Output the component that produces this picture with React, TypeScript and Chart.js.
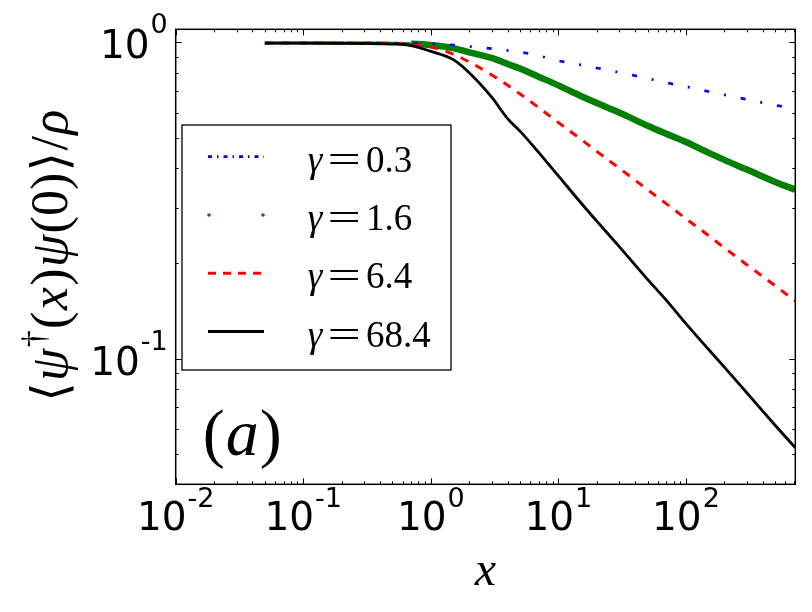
import { useEffect, useRef } from 'react';
import { Chart, registerables } from 'chart.js';

Chart.register(...registerables);

// x positions shared by every curve (log axis)
const X_VALUES = [0.05, 0.1, 0.2, 0.3, 0.5, 0.7, 1, 1.5, 2, 3, 4, 5, 7, 10, 15, 20, 30, 50, 70, 100, 150, 200, 300, 500, 720];

// <psi^+(x) psi(0)> / rho for each gamma
const G_03 = [0.995, 0.995, 0.995, 0.995, 0.995, 0.994, 0.991, 0.981, 0.971, 0.956, 0.943, 0.932, 0.908, 0.875, 0.849, 0.830, 0.804, 0.769, 0.746, 0.724, 0.699, 0.682, 0.660, 0.633, 0.616];
const G_16 = [0.995, 0.995, 0.995, 0.995, 0.994, 0.990, 0.981, 0.959, 0.930, 0.893, 0.854, 0.827, 0.779, 0.731, 0.677, 0.643, 0.600, 0.545, 0.514, 0.484, 0.448, 0.425, 0.396, 0.362, 0.342];
const G_64 = [0.995, 0.995, 0.995, 0.995, 0.993, 0.984, 0.966, 0.918, 0.867, 0.789, 0.732, 0.687, 0.622, 0.558, 0.494, 0.452, 0.400, 0.342, 0.309, 0.277, 0.245, 0.224, 0.198, 0.170, 0.152];
const G_684 = [0.995, 0.995, 0.993, 0.992, 0.988, 0.977, 0.937, 0.882, 0.802, 0.671, 0.574, 0.524, 0.449, 0.378, 0.311, 0.272, 0.226, 0.178, 0.153, 0.129, 0.107, 0.0939, 0.0779, 0.0615, 0.0522];

const GAMMA_LABELS = ['0.3', '1.6', '6.4', '68.4'];

// tick labels are 10^e for these exponents
const X_EXPONENTS = [-2, -1, 0, 1, 2];
const Y_EXPONENTS = [-1, 0];

const SERIF = '"Liberation Serif"';
const SANS = '"DejaVu Sans"';

type Run = { text: string; font: string; dy?: number };

const toPoints = (ys: number[]) => X_VALUES.map((x, i) => ({ x, y: ys[i] }));

// how each legend sample is drawn
const LEGEND_STYLE = [
    { color: '#0000ff', dash: [4, 5, 1.5, 5], width: 2.7, dots: false },
    { color: '#008000', dash: [], width: 0, dots: true },
    { color: '#ff0000', dash: [8, 7], width: 3, dots: false },
    { color: '#000000', dash: [], width: 3, dots: false },
];

function measureRuns(ctx: CanvasRenderingContext2D, runs: Run[]) {
    return runs.map(r => {
        ctx.font = r.font;
        return ctx.measureText(r.text).width;
    });
}

function drawRuns(ctx: CanvasRenderingContext2D, runs: Run[], x: number, y: number, gap: number) {
    let cx = x;
    runs.forEach(r => {
        ctx.font = r.font;
        ctx.fillText(r.text, cx, y + (r.dy ?? 0));
        cx += ctx.measureText(r.text).width + gap;
    });
}

const BASE_FONT = `39px ${SANS}`;
const EXP_FONT = `27px ${SANS}`;

const decorations = {
    id: 'decorations',
    afterDraw(chart: Chart) {
        const { ctx, chartArea: a } = chart;
        const xs = chart.scales.x;
        const ys = chart.scales.y;
        ctx.save();
        ctx.fillStyle = '#000';
        ctx.strokeStyle = '#000';
        ctx.textBaseline = 'alphabetic';
        ctx.textAlign = 'left';

        // ticks, inside on all four sides
        ctx.lineWidth = 1;
        ctx.beginPath();
        const decadeTicks = (min: number, max: number, cb: (v: number, major: boolean) => void) => {
            for (let e = Math.floor(Math.log10(min)); e <= Math.ceil(Math.log10(max)); e++) {
                for (let m = 1; m <= 9; m++) {
                    const v = m * Math.pow(10, e);
                    if (v < min * 0.999 || v > max * 1.001) continue;
                    cb(v, m === 1);
                }
            }
        };
        decadeTicks(xs.min, xs.max, (v, major) => {
            const px = Math.round(xs.getPixelForValue(v)) + 0.5;
            const len = major ? 6 : 3;
            ctx.moveTo(px, a.bottom);
            ctx.lineTo(px, a.bottom - len);
            ctx.moveTo(px, a.top);
            ctx.lineTo(px, a.top + len);
        });
        decadeTicks(ys.min, ys.max, (v, major) => {
            const py = Math.round(ys.getPixelForValue(v)) + 0.5;
            const len = major ? 6 : 3;
            ctx.moveTo(a.left, py);
            ctx.lineTo(a.left + len, py);
            ctx.moveTo(a.right, py);
            ctx.lineTo(a.right - len, py);
        });
        ctx.stroke();

        // frame
        ctx.lineWidth = 1.5;
        ctx.strokeRect(a.left, a.top, a.right - a.left, a.bottom - a.top);

        // x tick labels
        X_EXPONENTS.forEach(e => {
            const px = xs.getPixelForValue(Math.pow(10, e));
            ctx.font = BASE_FONT;
            const wb = ctx.measureText('10').width;
            ctx.font = EXP_FONT;
            const we = ctx.measureText(String(e)).width;
            const left = px - (wb + 1 + we) / 2;
            ctx.font = BASE_FONT;
            ctx.fillText('10', left, a.bottom + 46);
            ctx.font = EXP_FONT;
            ctx.fillText(String(e), left + wb + 1, a.bottom + 23);
        });

        // y tick labels
        Y_EXPONENTS.forEach(e => {
            const py = ys.getPixelForValue(Math.pow(10, e));
            const right = a.left - 8;
            ctx.font = EXP_FONT;
            const we = ctx.measureText(String(e)).width;
            ctx.fillText(String(e), right - we, py - 9);
            ctx.font = BASE_FONT;
            const wb = ctx.measureText('10').width;
            ctx.fillText('10', right - we - 1 - wb, py + 16);
        });

        // x axis title
        ctx.font = `italic 48px ${SERIF}`;
        ctx.textAlign = 'center';
        ctx.fillText('x', (a.left + a.right) / 2, a.bottom + 101);
        ctx.textAlign = 'left';

        // y axis title, rotated
        const up = `52px ${SERIF}`;
        const it = `italic 52px ${SERIF}`;
        const ang = '50px "DejaVu Serif"';
        const title: Run[] = [
            { text: '\u27E8', font: ang },
            { text: 'ψ', font: it },
            { text: '†', font: `34px ${SERIF}`, dy: -22 },
            { text: '(', font: up },
            { text: 'x', font: it },
            { text: ')', font: up },
            { text: 'ψ', font: it },
            { text: '(0)', font: up },
            { text: '\u27E9', font: ang },
            { text: '/', font: up },
            { text: 'ρ', font: it },
        ];
        const widths = measureRuns(ctx, title);
        const natural = widths.reduce((s, w) => s + w, 0);
        const span = 292;
        const gap = Math.max(0, (span - natural) / (title.length - 1));
        const used = natural + gap * (title.length - 1);
        ctx.save();
        ctx.translate(67, (a.top + a.bottom) / 2 - 1);
        ctx.rotate(-Math.PI / 2);
        drawRuns(ctx, title, -used / 2, 0, gap);
        ctx.restore();

        // legend
        const lx = a.left + 6.3;
        const ly = a.top + 95.7;
        ctx.fillStyle = '#fff';
        ctx.fillRect(lx, ly, 269, 245);
        ctx.lineWidth = 1.3;
        ctx.strokeStyle = '#000';
        ctx.strokeRect(lx, ly, 269, 245);
        chart.data.datasets.forEach((ds, i) => {
            const st = LEGEND_STYLE[i];
            const ry = ly + 31.7 + i * 58.3;
            const x0 = lx + 26;
            const x1 = lx + 82;
            if (st.dots) {
                ctx.fillStyle = st.color;
                [x0 + 1, x1 - 1].forEach(cx => {
                    ctx.beginPath();
                    ctx.arc(cx, ry, 1.8, 0, Math.PI * 2);
                    ctx.fill();
                });
            } else {
                ctx.strokeStyle = st.color;
                ctx.lineWidth = st.width;
                ctx.setLineDash(st.dash);
                ctx.beginPath();
                ctx.moveTo(x0, ry);
                ctx.lineTo(x1, ry);
                ctx.stroke();
                ctx.setLineDash([]);
            }
            ctx.fillStyle = '#000';
            const base = ry + 15;
            ctx.font = `italic 37px ${SERIF}`;
            ctx.fillText('γ', lx + 125.7, base);
            // wide math-style equals sign
            ctx.font = `37px ${SERIF}`;
            ctx.save();
            ctx.translate(lx + 162.3, base);
            ctx.scale(1.6, 1);
            ctx.textAlign = 'center';
            ctx.fillText('=', 0, 0);
            ctx.restore();
            ctx.textAlign = 'left';
            ctx.fillText(String(ds.label).replace('γ=', ''), lx + 184, base);
        });

        // panel tag
        const tag: Run[] = [
            { text: '(', font: `66px ${SERIF}` },
            { text: 'a', font: `italic 66px ${SERIF}` },
            { text: ')', font: `66px ${SERIF}` },
        ];
        ctx.fillStyle = '#000';
        drawRuns(ctx, tag, a.left + 27, a.bottom - 29, 1);

        ctx.restore();
    },
};

export default function App() {
    const canvasRef = useRef<HTMLCanvasElement>(null);
    const chartRef = useRef<Chart | null>(null);

    useEffect(() => {
        if (!canvasRef.current) return;
        const ctx = canvasRef.current.getContext('2d');
        if (!ctx) return;

        if (chartRef.current) chartRef.current.destroy();

        chartRef.current = new Chart(ctx, {
            type: 'line',
            data: {
                datasets: [
                    {
                        label: 'γ=' + GAMMA_LABELS[0],
                        data: toPoints(G_03),
                        borderColor: '#0000ff',
                        borderWidth: 2.7,
                        borderDash: [5, 15, 2, 15],
                        pointRadius: 0,
                        order: 3,
                    },
                    {
                        label: 'γ=' + GAMMA_LABELS[1],
                        data: toPoints(G_16),
                        borderColor: '#008000',
                        borderWidth: 6.5,
                        pointRadius: 0,
                        order: 4,
                        segment: {
                            borderWidth: (c: any) => (c.p0.parsed.x < 0.6 ? 3 : 6.5),
                        },
                    },
                    {
                        label: 'γ=' + GAMMA_LABELS[2],
                        data: toPoints(G_64),
                        borderColor: '#ff0000',
                        borderWidth: 3,
                        borderDash: [8.5, 8],
                        pointRadius: 0,
                        order: 1,
                    },
                    {
                        label: 'γ=' + GAMMA_LABELS[3],
                        data: toPoints(G_684),
                        borderColor: '#000000',
                        borderWidth: 2.8,
                        pointRadius: 0,
                        order: 0,
                    },
                ],
            },
            options: {
                animation: false,
                responsive: true,
                maintainAspectRatio: false,
                cubicInterpolationMode: 'monotone',
                layout: {
                    padding: { left: 175.7, right: 16.7, top: 29.3, bottom: 127.7 },
                },
                scales: {
                    x: { type: 'logarithmic', min: 0.01, max: 720, display: false },
                    y: { type: 'logarithmic', min: 0.04, max: 1.1, display: false },
                },
                plugins: {
                    legend: { display: false },
                    tooltip: { enabled: false },
                },
            } as any,
            plugins: [decorations],
        });

        return () => {
            if (chartRef.current) {
                chartRef.current.destroy();
                chartRef.current = null;
            }
        };
    }, []);

    return (
        <div style={{ position: 'fixed', left: 0, top: 0, width: 812, height: 612, background: '#fff' }}>
            <canvas ref={canvasRef}></canvas>
        </div>
    );
}
